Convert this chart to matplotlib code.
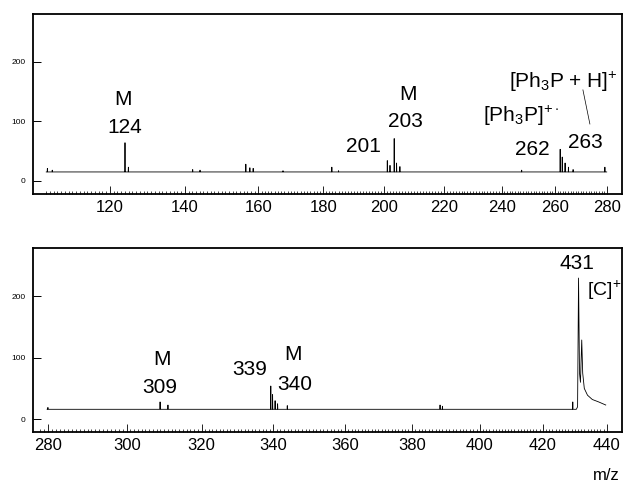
"""Two-panel mass spectrum (m/z 100-280 and 280-440), scanned-figure style."""

import numpy as np
import matplotlib
matplotlib.use("Agg")
import matplotlib.pyplot as plt
from matplotlib.ticker import FixedLocator

plt.rcParams.update({"font.family": ["Liberation Sans", "DejaVu Sans"],
                     "mathtext.fontset": "custom",
                     "mathtext.rm": "Liberation Sans",
                     "mathtext.it": "Liberation Sans:italic",
                     "mathtext.bf": "Liberation Sans:bold"})

# ------------------------------------------------------------------ data
# upper trace: baseline level, m/z range and peaks (m/z, intensity)
TOP_BASE = 15
TOP_RANGE = [103.0, 280.0]
TOP_PEAK_MZ = [103.3, 104.6, 124.0, 124.9, 142.1, 144.1, 156.6, 157.7, 158.6,
               167.6, 182.8, 185.0, 201.0, 201.9, 203.3, 204.1, 205.2, 247.5,
               262.0, 262.8, 263.9, 265.2, 267.0, 279.3]
TOP_PEAK_INT = [21, 18, 64, 23, 19, 18, 28, 22, 21,
                17, 23, 17, 34, 26, 71, 30, 24, 18,
                53, 40, 30, 23, 19, 23]

# lower trace
BOT_BASE = 16
BOT_RANGE = [279.7, 430.5]
BOT_PEAK_MZ = [279.9, 308.9, 311.0, 339.3, 339.8, 340.5, 341.2, 343.9,
               388.3, 389.0, 429.4]
BOT_PEAK_INT = [19, 28, 23, 54, 40, 30, 25, 22, 23, 21, 28]
# the [C]+ cluster and its tail, read point by point
CLUSTER_MZ = [430.5, 430.9, 431.2, 431.5, 431.8, 432.2, 432.5, 433.0, 434.0,
              435.5, 437.5, 439.7]
CLUSTER_INT = [16, 20, 230, 75, 60, 129, 75, 50, 39, 32, 28, 23]

# axis calibration of the scanned m/z axis (tick value -> pixel column)
TOP_CAL_MZ = [120, 140, 160, 180, 200, 220, 240, 260, 280]
TOP_CAL_PX = [110, 185, 258.3, 323.3, 384.3, 444.3, 501.7, 555, 606.7]
BOT_CAL_MZ = [280, 300, 320, 340, 360, 380, 400, 420, 440]
BOT_CAL_PX = [48.3, 126.7, 201.7, 273.3, 345, 411.7, 480, 542.7, 606.7]

W, H = 625, 483
AX_L, AX_R = 33, 622


def make_scale(cm, cp):
    cm, cp = np.asarray(cm, float), np.asarray(cp, float)
    s0 = (cp[1] - cp[0]) / (cm[1] - cm[0])
    s1 = (cp[-1] - cp[-2]) / (cm[-1] - cm[-2])
    m = np.r_[cm[0] - 1000, cm, cm[-1] + 1000]
    p = np.r_[cp[0] - 1000 * s0, cp, cp[-1] + 1000 * s1]
    return (lambda x: np.interp(x, m, p)), (lambda y: np.interp(y, p, m))


def trace(rng, base, pk_mz, pk_int, w=0.06):
    xs, ys = [rng[0]], [base]
    for m, h in sorted(zip(pk_mz, pk_int)):
        xs += [m - w, m, m + w]
        ys += [base, h, base]
    xs.append(rng[1]); ys.append(base)
    return xs, ys


def setup(ax, cal_mz, cal_px, minor_from, minor_to, ylim):
    fwd, inv = make_scale(cal_mz, cal_px)
    ax.set_xscale("function", functions=(fwd, inv))
    ax.set_xlim(inv(AX_L), inv(AX_R))
    ax.set_ylim(*ylim)
    ax.xaxis.set_major_locator(FixedLocator(cal_mz))
    ax.xaxis.set_minor_locator(FixedLocator(np.arange(minor_from, minor_to + 0.5, 1)))
    ax.xaxis.set_major_formatter(plt.FuncFormatter(lambda v, p: f"{v:.0f}"))
    ax.xaxis.set_minor_formatter(plt.NullFormatter())
    ax.set_yticks([0, 100, 200])
    ax.tick_params(axis="x", which="major", direction="in", length=5.8, width=0.6,
                   labelsize=12, pad=4.0)
    ax.tick_params(axis="x", which="minor", direction="in", length=2.2, width=0.5)
    ax.tick_params(axis="y", direction="in", length=5.8, width=0.7,
                   labelsize=6, pad=5.5)
    for sp in ax.spines.values():
        sp.set_linewidth(1.3)


fig = plt.figure(figsize=(W / 100, H / 100), dpi=100)
ax1 = fig.add_axes([AX_L / W, (H - 194) / H, (AX_R - AX_L) / W, 180 / H])
ax2 = fig.add_axes([AX_L / W, (H - 432) / H, (AX_R - AX_L) / W, 184 / H])

# ------------------------------------------------------------- upper panel
setup(ax1, TOP_CAL_MZ, TOP_CAL_PX, 103, 280, (-22, 280))
x, y = trace(TOP_RANGE, TOP_BASE, TOP_PEAK_MZ, TOP_PEAK_INT)
ax1.plot(x, y, color="black", lw=0.6)

fs = 15
ax1.text(123.6, 137, "M", ha="center", va="center", fontsize=fs)
ax1.text(124.0, 90, "124", ha="center", va="center", fontsize=fs)
ax1.text(207.9, 145, "M", ha="center", va="center", fontsize=fs)
ax1.text(207.2, 100, "203", ha="center", va="center", fontsize=fs)
ax1.text(193.3, 58, "201", ha="center", va="center", fontsize=fs)
ax1.text(247.2, 109, r"[Ph$_3$P]$^{+\cdot}$", ha="center", va="center", fontsize=fs)
ax1.text(251.4, 53, "262", ha="center", va="center", fontsize=fs)
ax1.text(271.6, 64, "263", ha="center", va="center", fontsize=fs)
ax1.text(263.1, 166, r"[Ph$_3$P + H]$^{+}$", ha="center", va="center", fontsize=fs)
ax1.plot([270.8, 273.5], [152.7, 95.4], color="black", lw=0.5)

# ------------------------------------------------------------- lower panel
setup(ax2, BOT_CAL_MZ, BOT_CAL_PX, 278, 440, (-21, 279))
x, y = trace(BOT_RANGE, BOT_BASE, BOT_PEAK_MZ, BOT_PEAK_INT)
ax2.plot(x + CLUSTER_MZ, y + CLUSTER_INT, color="black", lw=0.6)

ax2.text(309.3, 98, "M", ha="center", va="center", fontsize=fs)
ax2.text(308.9, 52, "309", ha="center", va="center", fontsize=fs)
ax2.text(333.4, 81, "339", ha="center", va="center", fontsize=fs)
ax2.text(345.6, 106, "M", ha="center", va="center", fontsize=fs)
ax2.text(346.0, 57, "340", ha="center", va="center", fontsize=fs)
ax2.text(430.7, 253, "431", ha="center", va="center", fontsize=fs)
ax2.text(433.9, 210, r"[C]$^{+}$", ha="left", va="center", fontsize=14)

fig.text(606 / W, 1 - 476 / H, "m/z", ha="center", va="center", fontsize=12)

fig.savefig("out.png", dpi=100, facecolor="white")
